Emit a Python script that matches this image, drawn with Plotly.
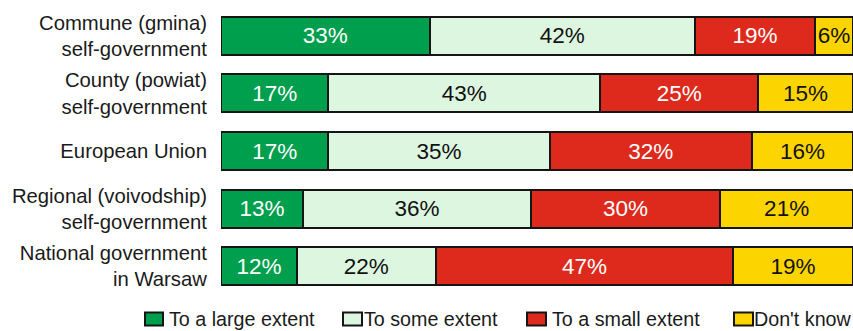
import plotly.graph_objects as go

categories = [
    "Commune (gmina)<br>self-government",
    "County (powiat)<br>self-government",
    "European Union",
    "Regional (voivodship)<br>self-government",
    "National government<br>in Warsaw",
]
series_names = ["To a large extent", "To some extent", "To a small extent", "Don't know"]
large = [33, 17, 17, 13, 12]
some = [42, 43, 35, 36, 22]
small = [19, 25, 32, 30, 47]
dontknow = [6, 15, 16, 21, 19]

values = [large, some, small, dontknow]
colors = ["#009f4e", "#dcf6e0", "#dd2a1c", "#fcd400"]
text_colors = ["white", "#111111", "white", "#111111"]

W, H = 853, 331
ML, MR, MT, MB = 221, 0, 7, 36
pw = W - ML - MR
ph = H - MT - MB

fig = go.Figure()
for name, vals, col, tc in zip(series_names, values, colors, text_colors):
    fig.add_trace(go.Bar(
        y=categories, x=vals, name=name, orientation="h",
        marker=dict(color=col, line=dict(color="#151515", width=2)),
        text=[f"{v}%" for v in vals], textposition="inside",
        insidetextanchor="middle", textangle=0, constraintext="none",
        textfont=dict(family="Liberation Sans, Arial", size=22.5, color=tc),
        showlegend=False, hoverinfo="skip",
    ))

# manual legend
legend_boxes = [(145, 163), (343, 362), (527, 546), (734, 753)]
legend_text_x = [167, 362, 550, 752]
ly = 319
shapes = []
annotations = []
for (bx0, bx1), tx, name, col in zip(legend_boxes, legend_text_x, series_names, colors):
    shapes.append(dict(
        type="rect", xref="paper", yref="paper",
        x0=(bx0 - ML) / pw, x1=(bx1 - ML) / pw,
        y0=(H - MB - (ly + 6.5)) / ph, y1=(H - MB - (ly - 6.5)) / ph,
        fillcolor=col, line=dict(color="#151515", width=2),
    ))
    annotations.append(dict(
        text=name, xref="paper", yref="paper",
        x=(tx - ML) / pw, y=(H - MB - ly) / ph,
        xanchor="left", yanchor="middle", showarrow=False,
        font=dict(family="Liberation Sans, Arial", size=19.7, color="#1a1a1a"),
    ))

fig.update_layout(
    barmode="stack", bargap=0.34,
    width=W, height=H,
    margin=dict(l=ML, r=MR, t=MT, b=MB),
    paper_bgcolor="white", plot_bgcolor="white",
    font=dict(family="Liberation Sans, Arial", size=20, color="#1a1a1a"),
    xaxis=dict(range=[0, 100], visible=False, fixedrange=True),
    yaxis=dict(autorange="reversed", showgrid=False, zeroline=False, showline=False,
               ticks="outside", ticklen=9, tickcolor="rgba(0,0,0,0)",
               tickfont=dict(family="Liberation Sans, Arial", size=20.3, color="#1a1a1a")),
    shapes=shapes, annotations=annotations,
    showlegend=False,
)

fig.write_html("out.html")
